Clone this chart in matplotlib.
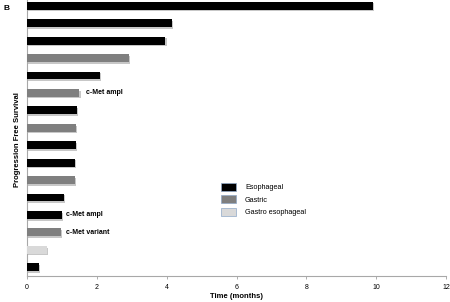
import matplotlib
matplotlib.use("Agg")
import matplotlib.pyplot as plt
import matplotlib.patheffects as pe
from matplotlib.patches import Patch

plt.rcParams['font.family'] = ['Liberation Sans', 'DejaVu Sans']

# patients, top to bottom
pfs = [9.9, 4.15, 3.96, 2.92, 2.09, 1.5, 1.43, 1.4, 1.4, 1.37, 1.37, 1.06, 1.0, 0.96, 0.57, 0.33]
tumor = ['Esophageal', 'Esophageal', 'Esophageal', 'Gastric', 'Esophageal', 'Gastric',
         'Esophageal', 'Gastric', 'Esophageal', 'Esophageal', 'Gastric', 'Esophageal',
         'Esophageal', 'Gastric', 'Gastro esophageal', 'Esophageal']
notes = {5: 'c-Met ampl', 12: 'c-Met ampl', 13: 'c-Met variant'}
note_x = {5: 1.69, 12: 1.11, 13: 1.11}
xticks = [0, 2, 4, 6, 8, 10, 12]

colors = {'Esophageal': '#000000', 'Gastric': '#7f7f7f', 'Gastro esophageal': '#d9d9d9'}

fig = plt.figure(figsize=(4.5, 3.02), dpi=100)
ax = fig.add_axes([27 / 450, 26 / 302, 419 / 450, 279 / 302])

ypos = list(range(len(pfs)))
shadow = [pe.SimplePatchShadow(offset=(1, -1.2), shadow_rgbFace='#909090', alpha=0.5), pe.Normal()]
for y, v, t in zip(ypos, pfs, tumor):
    ax.barh(y, v, height=0.45, color=colors[t], path_effects=shadow, zorder=3)

for i, txt in notes.items():
    ax.text(note_x[i], i, txt, fontsize=5, fontweight='bold', va='center', ha='left')

ax.set_ylim(len(pfs) - 0.5, -0.5)
ax.set_xlim(0, 12)
ax.set_xticks(xticks)
ax.set_xticklabels([str(x) for x in xticks], fontsize=5)
ax.set_yticks([])
ax.tick_params(axis='x', length=2.5, width=0.6, color='#a0a0a0', pad=3)
for s in ['top', 'right']:
    ax.spines[s].set_visible(False)
for s in ['left', 'bottom']:
    ax.spines[s].set_color('#a8a8a8')
    ax.spines[s].set_linewidth(0.8)

ax.set_xlabel('Time (months)', fontsize=5.5, fontweight='bold', labelpad=2)
fig.text(18 / 450, 1 - 140 / 302, 'Progression Free Survival', rotation=90, fontsize=5.5,
         fontweight='bold', ha='center', va='center')
fig.text(3 / 450, 1 - 8 / 302, 'B', fontsize=6, fontweight='bold', ha='left', va='center')

handles = [Patch(facecolor=colors[k], edgecolor='#8fa8c8', linewidth=0.5) for k in colors]
ax.legend(handles, list(colors.keys()), loc='upper left', bbox_to_anchor=(0.455, 0.345),
          frameon=False, fontsize=5.2, handlelength=2.2, handleheight=1.3,
          labelspacing=0.6, handletextpad=1.2, borderaxespad=0)

fig.savefig('out.png', dpi=100)
